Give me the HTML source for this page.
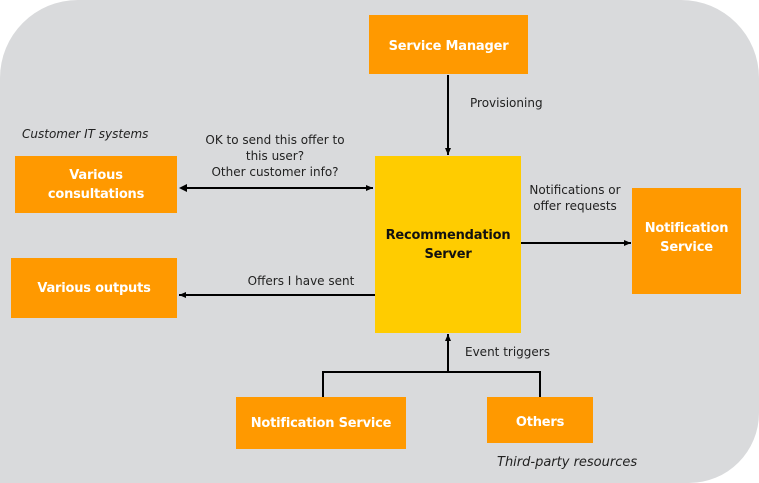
<!DOCTYPE html>
<html><head><style>
body{margin:0;width:759px;height:483px;background:#fff;position:relative;overflow:hidden;font-family:"DejaVu Sans","Liberation Sans",sans-serif}
.bg{position:absolute;left:0;top:0;width:759px;height:483px;background:#d9dadc;border-radius:78px 78px 70px 0}
.b{position:absolute;background:#ff9900;color:#fff;font-weight:bold;font-size:13px;display:flex;align-items:center;justify-content:center;text-align:center;line-height:19px;letter-spacing:-0.2px}
.t{position:absolute;font-size:12px;color:#222;text-align:center;line-height:16px}
svg{position:absolute;left:0;top:0}
</style></head><body>
<div class="bg"></div>
<svg width="759" height="483">
<defs><marker id="a" markerWidth="8" markerHeight="8" refX="7" refY="4" orient="auto" markerUnits="userSpaceOnUse"><path d="M0,1 L7,4 L0,7z" fill="#000"/></marker></defs>
<g stroke="#000" stroke-width="2" fill="none">
<line x1="448" y1="75" x2="448" y2="155" marker-end="url(#a)"/>
<line x1="181" y1="188" x2="373" y2="188" marker-end="url(#a)"/>
<line x1="375" y1="295" x2="179" y2="295" marker-end="url(#a)"/>
<line x1="521" y1="243" x2="631" y2="243" marker-end="url(#a)"/>
<line x1="448" y1="372" x2="448" y2="334" marker-end="url(#a)"/>
<polyline points="323,397 323,372 540,372 540,397"/>
</g>
<path d="M179,188 l8,-4 v8z" fill="#000"/>
</svg>
<div class="b" style="left:369px;top:15px;width:159px;height:59px;padding-top:4px;box-sizing:border-box">Service Manager</div>
<div class="b" style="left:375px;top:156px;width:146px;height:177px;background:#ffcc00;color:#111">Recommendation<br>Server</div>
<div class="b" style="left:15px;top:156px;width:162px;height:57px">Various<br>consultations</div>
<div class="b" style="left:11px;top:258px;width:166px;height:60px">Various outputs</div>
<div class="b" style="left:632px;top:188px;width:109px;height:106px;padding-bottom:6px;box-sizing:border-box">Notification<br>Service</div>
<div class="b" style="left:236px;top:397px;width:170px;height:52px">Notification Service</div>
<div class="b" style="left:487px;top:397px;width:106px;height:46px;padding-top:4px;box-sizing:border-box">Others</div>
<div class="t" style="left:470px;top:95px;text-align:left">Provisioning</div>
<div class="t" style="left:22px;top:126px;font-style:italic;text-align:left">Customer IT systems</div>
<div class="t" style="left:190px;top:132px;width:170px">OK to send this offer to<br>this user?<br>Other customer info?</div>
<div class="t" style="left:520px;top:182px;width:110px">Notifications or<br>offer requests</div>
<div class="t" style="left:226px;top:273px;width:150px">Offers I have sent</div>
<div class="t" style="left:465px;top:344px;text-align:left">Event triggers</div>
<div class="t" style="left:497px;top:455px;font-style:italic;font-size:13px;text-align:left">Third-party resources</div>
</body></html>
